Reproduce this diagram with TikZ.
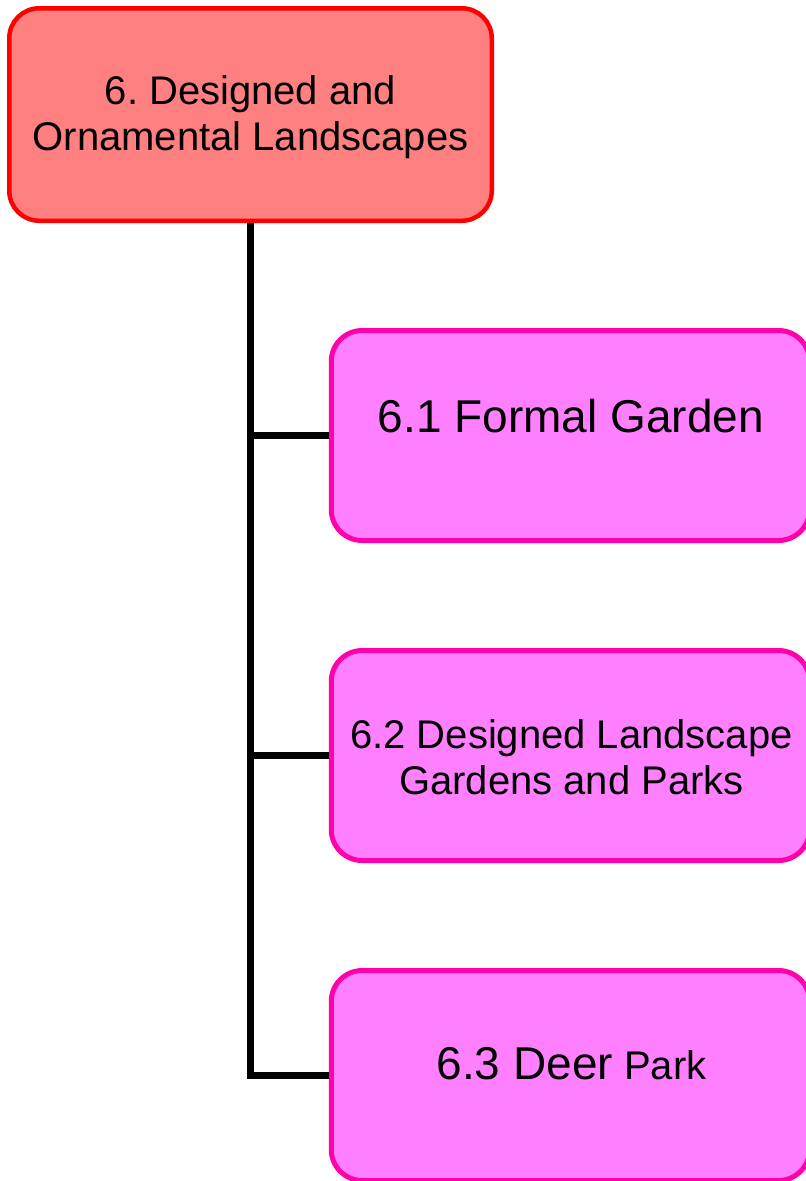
\documentclass[tikz,border=0pt]{standalone}
\usepackage{fontspec}
\setmainfont{Liberation Sans}
\frenchspacing
\definecolor{topfill}{HTML}{FF8080}
\definecolor{topline}{HTML}{FF0000}
\definecolor{subfill}{HTML}{FF80FF}
\definecolor{subline}{HTML}{FF00AA}
\begin{document}
\begin{tikzpicture}[x=1pt,y=-1pt,
  topbox/.style={draw=topline,fill=topfill,line width=4.5pt,rounded corners=30pt,
    minimum width=482.5pt,minimum height=212.5pt,inner sep=0pt},
  subbox/.style={draw=subline,fill=subfill,line width=5pt,rounded corners=31pt,
    minimum width=478.3pt,minimum height=210pt,inner sep=0pt},
  connector/.style={draw=black,line width=7.5pt,line join=miter},
  bigtext/.style={font=\fontsize{46}{52}\selectfont,inner sep=0pt},
  midtext/.style={font=\fontsize{40}{46}\selectfont,align=center,inner sep=0pt}]
\useasboundingbox (0,0) rectangle (806,1181);
\clip (0,0) rectangle (806,1181);
\fill[white] (0,0) rectangle (806,1181);
% boxes
\node[topbox] (top) at (250.5,114.5) {};
\node[subbox] (c1) at (570.4,435.5) {};
\node[subbox] (c2) at (570.4,755.5) {};
\node[subbox] (c3) at (570.4,1075.5) {};
% connectors
\draw[connector] (top.south) |- (c3.west);
\draw[connector] (top.south |- c1.west) -- (c1.west);
\draw[connector] (top.south |- c2.west) -- (c2.west);
% texts
\node[midtext] (ttop) at (250.5,117.4) {6. Designed and\\Ornamental Landscapes};
\node[bigtext,anchor=base] (t1) at (571,432) {6.1 Formal Garden};
\node[midtext] (t2) at (571.5,757.4) {6.2 Designed Landscape\\Gardens and Parks};
\node[bigtext,anchor=base] (t3) at (571.5,1079) {6.3 Deer{\fontsize{40}{46}\selectfont{} Park}};
\end{tikzpicture}
\end{document}
